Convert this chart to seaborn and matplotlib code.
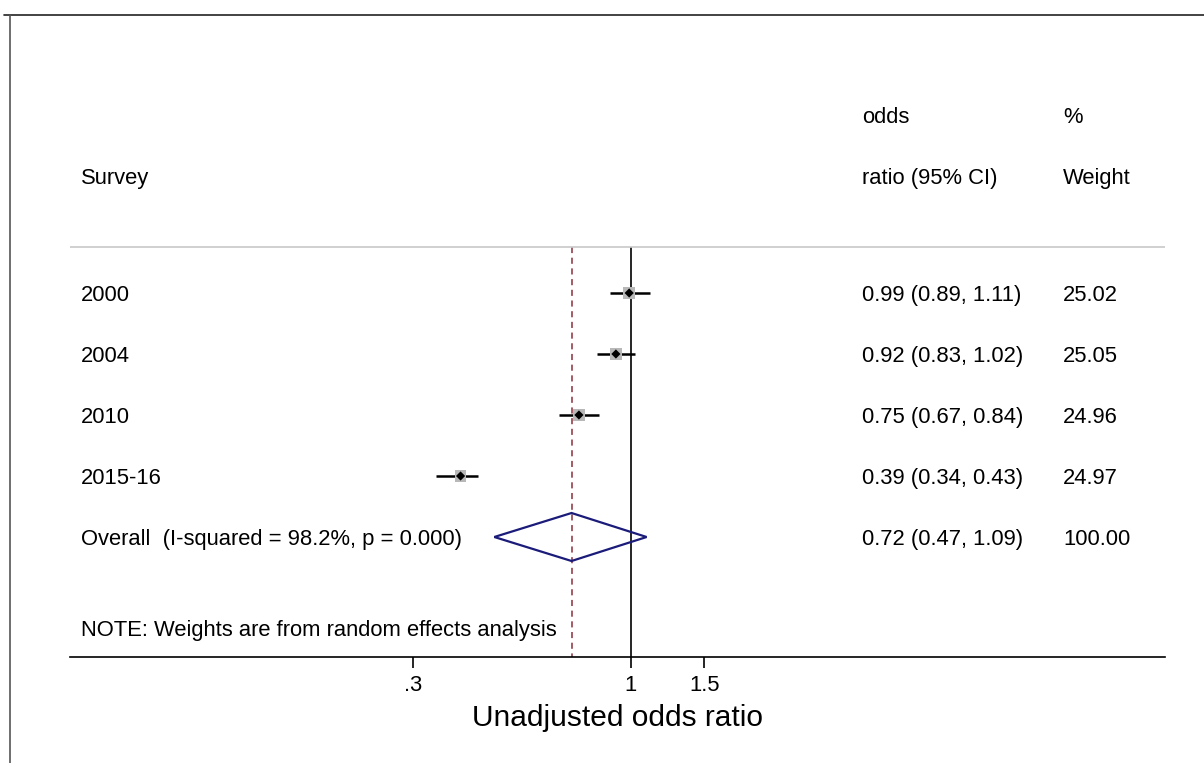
import numpy as np
import pandas as pd
import seaborn as sns
import matplotlib
matplotlib.use("Agg")
from matplotlib import pyplot as plt
from matplotlib.lines import Line2D
from matplotlib.patches import Polygon

sns.set_theme(style="white")
plt.rcParams['font.family'] = ['Liberation Sans', 'DejaVu Sans']
plt.rcParams['text.color'] = 'black'
plt.rcParams['axes.labelcolor'] = 'black'
plt.rcParams['xtick.color'] = 'black'

# study estimates
surveys = ["2000", "2004", "2010", "2015-16"]
odds_ratio = [0.99, 0.92, 0.75, 0.39]
ci_low = [0.89, 0.83, 0.67, 0.34]
ci_high = [1.11, 1.02, 0.84, 0.43]
weights = ["25.02", "25.05", "24.96", "24.97"]

# pooled estimate
overall_label = "Overall  (I-squared = 98.2%, p = 0.000)"
overall_or = 0.72
overall_low = 0.47
overall_high = 1.09
overall_weight = "100.00"

tick_vals = [0.3, 1, 1.5]
tick_labels = [".3", "1", "1.5"]

df = pd.DataFrame({"survey": surveys, "or": odds_ratio, "lo": ci_low, "hi": ci_high,
                   "w": weights})
df["row"] = np.arange(len(df))
overall_row = len(df)

fig = plt.figure(figsize=(12.04, 7.63), dpi=100)
ax = fig.add_axes([70 / 1204, 106 / 763, 1095 / 1204, 597 / 763])

# log scale: 181 px per ln unit, 1 at pixel 631
ln_left = (70 - 631) / 181
ln_right = (1165 - 631) / 181
ax.set_xscale("log")
ax.set_xlim(np.exp(ln_left), np.exp(ln_right))

# rows 61 px apart, first study row at pixel 293
def ypix(p):
    return (p - 293) / 61

ax.set_ylim(ypix(657), ypix(60))

line_top = ypix(247)

# reference lines
ax.vlines(1, line_top, ypix(657), color="black", lw=1.2, zorder=1)
ax.vlines(overall_or, line_top, ypix(657), color="#8c2f3a", lw=1.1,
          linestyles=(0, (4, 3)), zorder=1)

# confidence intervals
ax.hlines(df["row"], df["lo"], df["hi"], color="black", lw=1.8, zorder=2)

# weight boxes and point estimates
sns.scatterplot(data=df, x="or", y="row", marker="s", s=70, color="#b8b8b8",
                edgecolor="none", ax=ax, zorder=3, legend=False)
sns.scatterplot(data=df, x="or", y="row", marker="D", s=22, color="black",
                edgecolor="none", ax=ax, zorder=4, legend=False)

# pooled diamond
half_h = 24 / 61
diamond = Polygon([(overall_low, overall_row), (overall_or, overall_row - half_h),
                   (overall_high, overall_row), (overall_or, overall_row + half_h)],
                  closed=True, fill=False, edgecolor="#1b1b7a", lw=1.6, zorder=5)
ax.add_patch(diamond)

# header separator
ax.axhline(line_top, color="#c8c8c8", lw=1.2, zorder=1)

# text columns
trans = ax.get_yaxis_transform()
col_label = (81 - 70) / 1095
col_or = (862 - 70) / 1095
col_w = (1063 - 70) / 1095
fs = 15.8
base = 8 / 61  # baseline sits half a cap height below row centre


def put(x, y, s):
    ax.text(x, y + base, s, transform=trans, fontsize=fs, va="baseline")


put(col_label, ypix(176), "Survey")
put(col_or, ypix(115), "odds")
put(col_or, ypix(176), "ratio (95% CI)")
put(col_w, ypix(115), "%")
put(col_w, ypix(176), "Weight")

for _, r in df.iterrows():
    put(col_label, r["row"], r["survey"])
    put(col_or, r["row"], f"{r['or']:.2f} ({r['lo']:.2f}, {r['hi']:.2f})")
    put(col_w, r["row"], r["w"])

put(col_label, overall_row, overall_label)
put(col_or, overall_row, f"{overall_or:.2f} ({overall_low:.2f}, {overall_high:.2f})")
put(col_w, overall_row, overall_weight)
put(col_label, ypix(628), "NOTE: Weights are from random effects analysis")

# axis styling
for side in ["top", "right", "left"]:
    ax.spines[side].set_visible(False)
ax.spines["bottom"].set_color("black")
ax.spines["bottom"].set_linewidth(1.2)
ax.set_yticks([])
ax.set_ylabel("")
ax.set_xticks(tick_vals)
ax.set_xticklabels(tick_labels, fontsize=fs)
ax.xaxis.set_minor_locator(matplotlib.ticker.NullLocator())
ax.tick_params(axis="x", direction="out", length=8, width=1.2, color="black",
               bottom=True, pad=5)
ax.set_xlabel("Unadjusted odds ratio", fontsize=21.5, labelpad=6)
ax.grid(False)

# outer frame (top and left only)
fig.add_artist(Line2D([4 / 1204, 1], [1 - 15 / 763, 1 - 15 / 763],
                      transform=fig.transFigure, color="#222222", lw=1.2))
fig.add_artist(Line2D([10 / 1204, 10 / 1204], [0, 1 - 15 / 763],
                      transform=fig.transFigure, color="#555555", lw=1.2))

fig.savefig("out.png", dpi=100)
